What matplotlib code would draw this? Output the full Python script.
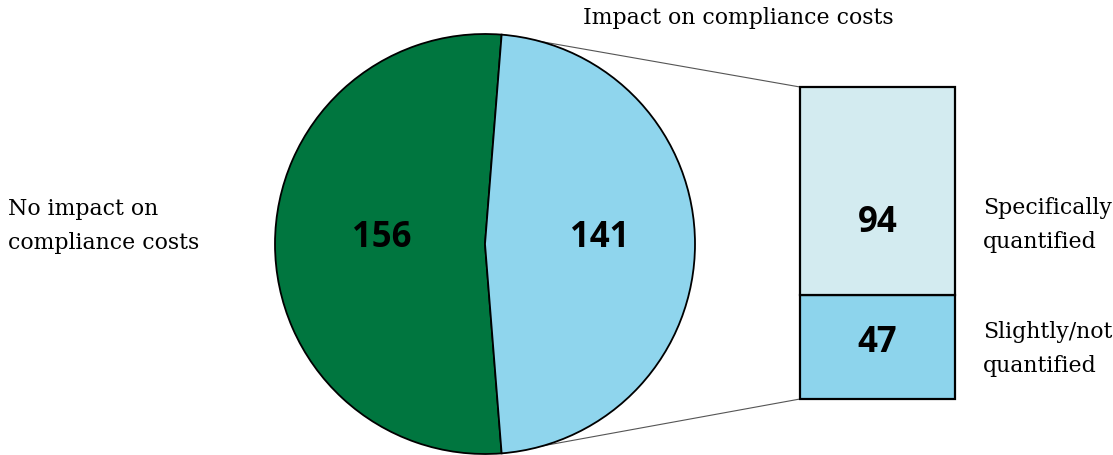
import matplotlib.pyplot as plt
import numpy as np

# Pie: regulations with / without impact on compliance costs
pie_labels = ["No impact on\ncompliance costs", "Impact on compliance costs"]
pie_values = [156, 141]
pie_colors = ["#00763f", "#8fd5ed"]

# Breakdown of the "impact" wedge
bar_labels = ["Slightly/not\nquantified", "Specifically\nquantified"]
bar_values = [47, 94]
bar_colors = ["#8dd4ec", "#d3ebf0"]

W, H = 1113, 456
fig = plt.figure(figsize=(W / 100, H / 100), dpi=100)
ax = fig.add_axes([0, 0, 1, 1])

serif = "DejaVu Serif"
bold = "Open Sans"

# pie centred on the impact wedge at the right
cx, cy, r = 485, 211, 210
half = pie_values[1] / sum(pie_values) * 180
wedges, _ = ax.pie(pie_values, colors=pie_colors, center=(cx, cy), radius=r,
                   startangle=half, counterclock=True,
                   wedgeprops=dict(edgecolor="black", linewidth=1.3))

ax.text(cx - 103, cy + 7, str(pie_values[0]), ha="center", va="center",
        fontsize=25, fontweight="bold", family=bold)
ax.text(cx + 115, cy + 7, str(pie_values[1]), ha="center", va="center",
        fontsize=25, fontweight="bold", family=bold)

# stacked bar for the impact wedge
bx, bw, by = 877.5, 155, 56
scale = 312 / sum(bar_values)
label_y = [113, 233]
bottom = by
for v, c, ly in zip(bar_values, bar_colors, label_y):
    h = v * scale
    ax.bar(bx, h, width=bw, bottom=bottom, color=c, edgecolor="black",
           linewidth=1.6)
    ax.text(bx, ly, str(v), ha="center", va="center",
            fontsize=25, fontweight="bold", family=bold)
    bottom += h
top = bottom

# connector lines from wedge edges to the bar
a = np.deg2rad(half)
ax.plot([cx + r * np.cos(a), bx - bw / 2], [cy + r * np.sin(a), top],
        color="#555555", linewidth=0.8, zorder=0)
ax.plot([cx + r * np.cos(a), bx - bw / 2], [cy - r * np.sin(a), by],
        color="#555555", linewidth=0.8, zorder=0)

# category labels
ax.text(738, 438, pie_labels[1], ha="center", va="center", fontsize=15.8,
        family=serif)
ax.text(8, 230, pie_labels[0], ha="left", va="center", fontsize=15.8,
        family=serif, linespacing=1.76)
ax.text(983, 231, bar_labels[1], ha="left", va="center", fontsize=15.8,
        family=serif, linespacing=1.76)
ax.text(983, 107, bar_labels[0], ha="left", va="center", fontsize=15.8,
        family=serif, linespacing=1.76)

ax.set_xlim(0, W)
ax.set_ylim(0, H)
ax.set_aspect("auto")
ax.axis("off")

fig.savefig("out.png", dpi=100)
